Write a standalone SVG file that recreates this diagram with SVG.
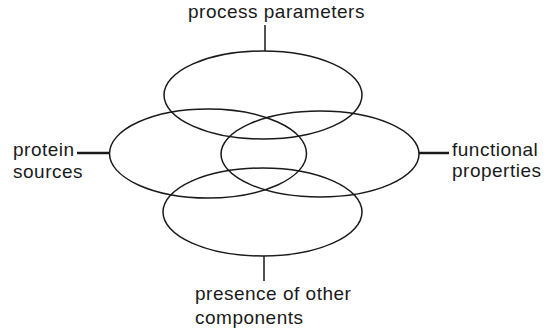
<svg xmlns="http://www.w3.org/2000/svg" width="551" height="329" viewBox="0 0 551 329">
<style>
.set{fill:none;stroke:#1a1a1a;stroke-width:1.5}
.conn{stroke:#1a1a1a;stroke-width:1.5;fill:none}
.conn.h{stroke-width:2.5}
text{font-family:"Liberation Sans",Arial,sans-serif;font-size:19px;fill:#1a1a1a;letter-spacing:0.5px}
</style>
<rect width="551" height="329" fill="#fff"/>
<g id="process-parameters">
<ellipse class="set" cx="263" cy="95" rx="99" ry="44"/>
<text x="188" y="18">process parameters</text>
</g>
<g id="protein-sources">
<ellipse class="set" cx="208" cy="153.5" rx="98.5" ry="44.5"/>
<text x="13" y="156">protein</text>
<text x="13" y="178">sources</text>
</g>
<g id="functional-properties">
<ellipse class="set" cx="320" cy="154" rx="99" ry="43"/>
<text x="452" y="156">functional</text>
<text x="452" y="177">properties</text>
</g>
<g id="presence-of-other-components">
<ellipse class="set" cx="262.5" cy="212" rx="99.5" ry="44"/>
<text x="195" y="300">presence of other</text>
<text x="195" y="324">components</text>
</g>
<g id="connectors">
<line class="conn" x1="265" y1="25" x2="265" y2="51"/>
<line class="conn h" x1="77" y1="153" x2="109.5" y2="153"/>
<line class="conn h" x1="419" y1="153" x2="449" y2="153"/>
<line class="conn" x1="264" y1="256" x2="264" y2="281"/>
</g>
</svg>
